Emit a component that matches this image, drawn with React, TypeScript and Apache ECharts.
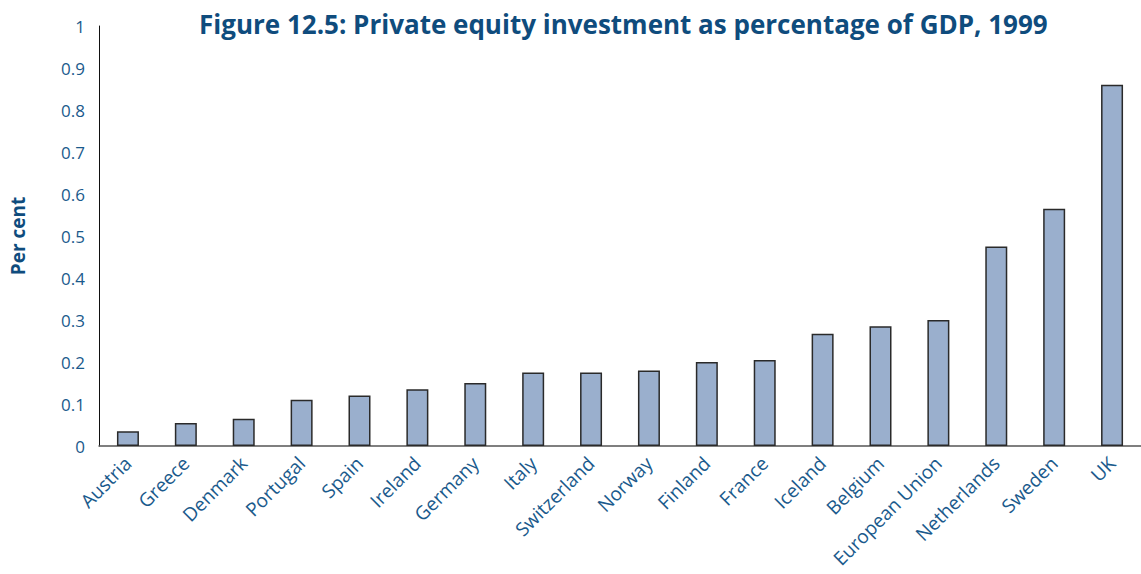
import React, { useEffect, useRef } from "react";
import * as echarts from "echarts";

const categories = [
  "Austria", "Greece", "Denmark", "Portugal", "Spain", "Ireland", "Germany", "Italy",
  "Switzerland", "Norway", "Finland", "France", "Iceland", "Belgium", "European Union",
  "Netherlands", "Sweden", "UK",
];
const values = [
  0.035, 0.055, 0.065, 0.11, 0.12, 0.135, 0.15, 0.175,
  0.175, 0.18, 0.2, 0.205, 0.267, 0.285, 0.3,
  0.475, 0.565, 0.86,
];
const titleText = "Figure 12.5: Private equity investment as percentage of GDP, 1999";
const yAxisName = "Per cent";

const BLUE = "#1a5a8c";
const FONT = "'Open Sans', 'Noto Sans', sans-serif";

export default function App() {
  const ref = useRef<HTMLDivElement>(null);
  useEffect(() => {
    if (!ref.current) return;
    const chart = echarts.init(ref.current, null, { renderer: "svg" });
    chart.setOption({
      animation: false,
      backgroundColor: "#ffffff",
      title: {
        text: titleText,
        left: 194,
        top: 6,
        textStyle: { color: "#0f4c7d", fontSize: 26, fontWeight: "bold", fontFamily: FONT },
      },
      grid: { left: 95, right: 0, top: 26, bottom: 128, containLabel: false },
      xAxis: {
        type: "category",
        data: categories,
        axisLine: { show: true, lineStyle: { color: "#555555", width: 1.5 } },
        axisTick: { show: false },
        axisLabel: {
          rotate: 45,
          interval: 0,
          margin: 14,
          color: BLUE,
          fontSize: 19,
          fontFamily: FONT,
        },
      },
      yAxis: {
        type: "value",
        min: 0,
        max: 1,
        interval: 0.1,
        name: yAxisName,
        nameLocation: "middle",
        nameRotate: 90,
        nameGap: 72,
        nameTextStyle: { color: "#0f4c7d", fontSize: 19, fontWeight: "bold", fontFamily: FONT },
        axisLine: { show: true, lineStyle: { color: "#111111", width: 1 } },
        axisTick: { show: false },
        splitLine: { show: false },
        axisLabel: {
          margin: 14,
          color: BLUE,
          fontSize: 17,
          fontFamily: FONT,
          formatter: (v: number) => String(Math.round(v * 10) / 10),
        },
      },
      series: [
        {
          type: "bar",
          data: values,
          barWidth: 22,
          itemStyle: { color: "#9aafcd", borderColor: "#2a2a2a", borderWidth: 1.5 },
        },
      ],
    });
    return () => chart.dispose();
  }, []);
  return (
    <div
      ref={ref}
      style={{ position: "fixed", left: 0, top: 0, width: 1141, height: 574 }}
    />
  );
}
